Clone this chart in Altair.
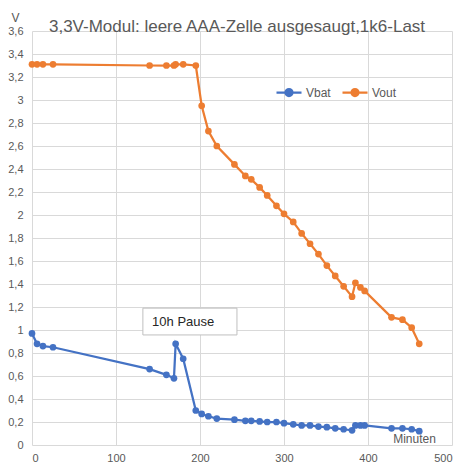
import altair as alt
import pandas as pd

minutes = [0, 6, 13, 25, 140, 160, 169, 171, 180, 195, 202, 210, 220, 241, 254, 261, 271, 280,
           291, 300, 311, 321, 331, 341, 351, 361, 371, 381, 385, 391, 396, 428, 441, 452, 461]
vbat = [0.97, 0.88, 0.86, 0.85, 0.66, 0.61, 0.58, 0.88, 0.75, 0.30, 0.27, 0.25, 0.23, 0.22, 0.21,
        0.21, 0.205, 0.20, 0.20, 0.19, 0.18, 0.17, 0.17, 0.16, 0.155, 0.145, 0.137, 0.128, 0.17,
        0.17, 0.17, 0.145, 0.145, 0.137, 0.12]
vout = [3.31, 3.31, 3.31, 3.31, 3.30, 3.30, 3.30, 3.31, 3.31, 3.30, 2.95, 2.73, 2.60, 2.44, 2.34,
        2.31, 2.24, 2.17, 2.08, 2.01, 1.94, 1.84, 1.75, 1.66, 1.56, 1.47, 1.38, 1.29, 1.41, 1.37,
        1.34, 1.11, 1.09, 1.02, 0.88]
series_names = ["Vbat", "Vout"]
series_colors = ["#4472C4", "#ED7D31"]
x_ticks = [0, 100, 200, 300, 400, 500]
y_ticks = [0, 0.2, 0.4, 0.6, 0.8, 1.0, 1.2, 1.4, 1.6, 1.8, 2.0, 2.2, 2.4, 2.6, 2.8, 3.0, 3.2, 3.4, 3.6]

rows = []
for i, m in enumerate(minutes):
    rows.append({"min": m, "v": vbat[i], "series": "Vbat", "o": i})
    rows.append({"min": m, "v": vout[i], "series": "Vout", "o": i})
df = pd.DataFrame(rows)

FONT = "Liberation Sans"
GREY = "#595959"

x_enc = alt.X("min:Q", scale=alt.Scale(domain=[0, 500], nice=False),
              axis=alt.Axis(values=x_ticks, tickCount=20, title="Minuten", titleX=382, titleY=-7,
                            titleAngle=0, titleAlign="center", titleBaseline="middle",
                            titleFontWeight="normal", titleFontSize=12, titleColor=GREY,
                            labelPadding=7, ticks=False, domain=False, format="d",
                            labelOverlap=False))
y_enc = alt.Y("v:Q", scale=alt.Scale(domain=[0, 3.6], nice=False),
              axis=alt.Axis(values=y_ticks, tickCount=40, title="V", titleX=-17, titleY=-14,
                            titleAngle=0, titleAlign="center", titleBaseline="middle",
                            titleFontWeight="normal", titleFontSize=12, titleColor=GREY,
                            labelPadding=9, ticks=False, domain=False, labelOverlap=False,
                            labelExpr="replace(format(datum.value, '.1~f'), '.', ',')"))

legend_path = "M-1,0L1,0M0.28,0A0.28,0.28,0,1,1,-0.28,0A0.28,0.28,0,1,1,0.28,0Z"

lines = alt.Chart(df).mark_line(strokeWidth=2.25, point=alt.OverlayMarkDef(filled=True, size=45)).encode(
    x=x_enc, y=y_enc,
    order="o:Q",
    color=alt.Color("series:N", scale=alt.Scale(domain=series_names, range=series_colors),
                    legend=alt.Legend(title=None, orient="none", legendX=243, legendY=47.5,
                                      direction="horizontal", symbolType=legend_path,
                                      symbolSize=625, symbolStrokeWidth=2.25,
                                      labelFontSize=12, labelColor=GREY, labelFont=FONT,
                                      labelOffset=3, columnPadding=7, padding=0)),
)

box_df = pd.DataFrame({"x1": [132], "x2": [244], "y1": [0.957], "y2": [1.19]})
box = alt.Chart(box_df).mark_rect(fill="white", stroke="#BFBFBF", strokeWidth=1).encode(
    x="x1:Q", x2="x2:Q", y="y1:Q", y2="y2:Q")
txt_df = pd.DataFrame({"x": [143], "y": [1.07], "t": ["10h Pause"]})
txt = alt.Chart(txt_df).mark_text(align="left", baseline="middle", fontSize=13, font=FONT,
                                  color="#262626").encode(x="x:Q", y="y:Q", text="t:N")

chart = alt.layer(lines, box, txt).properties(
    width=420, height=414,
    autosize=alt.AutoSizeParams(type="none"),
    padding={"left": 24, "top": 23, "right": 9, "bottom": 25},
    title=alt.TitleParams("3,3V-Modul: leere AAA-Zelle ausgesaugt,1k6-Last", fontSize=17,
                          font=FONT, fontWeight="normal", color=GREY, offset=-25, dx=-5),
).configure_view(stroke=None).configure_axis(
    gridColor="#D9D9D9", gridWidth=1, labelFont=FONT, labelFontSize=11, labelColor=GREY,
    titleFont=FONT
)

chart.save("out.html", embed_options={"renderer": "svg", "actions": False})
